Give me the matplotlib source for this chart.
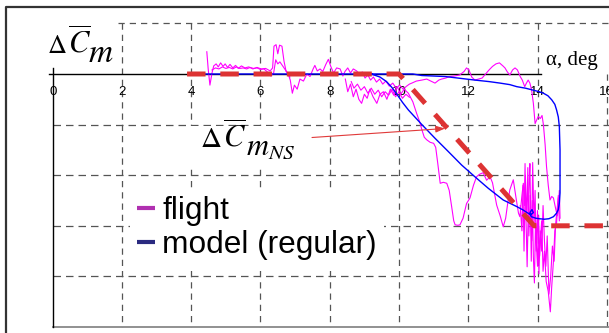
import matplotlib
matplotlib.use('Agg')
import matplotlib.pyplot as plt
from matplotlib.lines import Line2D
from matplotlib.patches import Rectangle

plt.rcParams['mathtext.fontset'] = 'stix'

# ---------------- data ----------------
x_ticks = [0, 2, 4, 6, 8, 10, 12, 14, 16]
x_tick_labels = ['0', '2', '4', '6', '8', '10', '12', '14', '16']
grid_levels = [-1, -2, -3, -4]

ns_alpha = [3.88, 10.0, 13.9, 16.2]
ns_dcm = [0.0, 0.0, -3.0, -3.0]

model_alpha = [4.0, 9.2, 10.4, 10.66, 11.0, 11.33, 11.7, 12.19, 12.6, 12.92, 13.2, 13.4,
               13.65, 13.88, 14.05, 14.17, 14.3, 14.41, 14.5, 14.55, 14.6, 14.63, 14.65,
               14.65, 14.65, 14.63, 14.6, 14.55, 14.46, 14.33, 14.2, 14.05, 13.95, 13.82,
               13.78, 13.84, 13.88, 13.80, 13.70, 13.59, 13.4, 13.01, 12.58, 12.19, 11.81,
               11.42, 11.04, 10.66, 10.27, 10.1, 9.95, 9.8, 9.64, 9.45, 9.2]
model_dcm = [0.0, 0.0, 0.0, -0.03, -0.04, -0.05, -0.08, -0.12, -0.15, -0.18, -0.21, -0.25,
             -0.28, -0.32, -0.35, -0.38, -0.43, -0.51, -0.6, -0.71, -0.85, -1.04, -1.5,
             -2.03, -2.35, -2.55, -2.68, -2.75, -2.82, -2.86, -2.87, -2.86, -2.85, -2.82,
             -2.74, -2.68, -2.74, -2.78, -2.74, -2.69, -2.62, -2.49, -2.26, -2.03, -1.8,
             -1.53, -1.27, -1.0, -0.71, -0.56, -0.41, -0.27, -0.15, -0.06, 0.0]

flight_a_alpha = [4.45, 4.49, 4.54, 4.60, 4.65, 4.72, 4.78, 4.85, 4.92, 4.98,
                  5.05, 5.12, 5.20, 5.28, 5.36, 5.45, 5.55, 5.66, 5.78, 5.90,
                  6.02, 6.15, 6.28, 6.35, 6.39, 6.45, 6.50, 6.55, 6.62, 6.68,
                  6.74, 6.80, 6.86, 6.92, 6.98, 7.06, 7.14, 7.24, 7.34, 7.43,
                  7.52, 7.57, 7.64, 7.72, 7.80, 7.88, 7.96, 8.03, 8.11, 8.20,
                  8.30, 8.38, 8.44, 8.52, 8.60, 8.68, 8.78, 8.86, 8.94, 9.02,
                  9.10, 9.18, 9.26, 9.35, 9.44, 9.53, 9.62, 9.72, 9.82, 9.92,
                  10.02, 10.12, 10.22, 10.30, 10.37, 10.50, 10.66, 10.80, 10.92, 11.04,
                  11.15, 11.23, 11.35, 11.45, 11.60, 11.75, 11.88, 11.95, 12.02, 12.10,
                  12.19, 12.30, 12.40, 12.50, 12.60, 12.70, 12.80, 12.90, 13.00, 13.06,
                  13.13, 13.20, 13.28, 13.35, 13.42, 13.50, 13.56, 13.63, 13.68, 13.73,
                  13.78, 13.83, 13.88, 13.93, 13.98, 14.02, 14.08, 14.13, 14.17, 14.22,
                  14.26, 14.31, 14.36, 14.41, 14.46, 14.52, 14.57, 14.60, 14.63, 14.65]
flight_a_dcm = [0.44, 0.10, -0.22, 0.02, 0.16, 0.20, 0.14, 0.22, 0.15, 0.20,
                0.13, 0.19, 0.12, 0.17, 0.11, 0.16, 0.12, 0.14, 0.10, 0.13,
                0.10, 0.11, 0.06, 0.12, 0.55, 0.58, 0.40, 0.57, 0.55, 0.25,
                0.05, 0.00, -0.12, -0.38, -0.22, -0.30, -0.10, -0.14, 0.00, -0.05,
                0.10, 0.17, 0.06, 0.10, 0.05, 0.18, 0.29, 0.15, 0.02, 0.12,
                0.10, -0.04, 0.05, 0.12, 0.02, 0.10, 0.06, -0.02, 0.04, -0.08,
                -0.02, -0.12, -0.06, -0.16, -0.10, -0.20, -0.14, -0.24, -0.18, -0.28,
                -0.22, -0.30, -0.24, -0.20, -0.18, -0.14, -0.12, -0.10, -0.14, -0.18,
                -0.12, -0.10, -0.08, -0.05, -0.04, -0.02, 0.05, 0.12, 0.08, -0.06,
                -0.12, -0.10, -0.08, 0.00, 0.08, 0.15, 0.20, 0.22, 0.16, 0.12,
                0.04, -0.02, 0.08, 0.12, 0.08, -0.05, -0.12, -0.25, -0.18, -0.12,
                -0.18, -0.32, -0.58, -0.98, -0.90, -0.84, -0.88, -0.82, -1.00, -1.40,
                -1.83, -2.20, -2.49, -2.42, -2.45, -2.65, -2.80, -2.70, -2.30, -2.85]

flight_b_alpha = [4.60, 4.70, 4.80, 4.90, 5.00, 5.10, 5.20, 5.30, 5.40, 5.50, 5.60, 5.70, 5.80,
                  5.90, 6.00, 6.10, 6.20, 6.30, 6.38, 6.44, 6.50, 6.56, 6.62, 6.70, 6.78, 6.85]
flight_b_dcm = [0.08, 0.12, 0.10, 0.14, 0.11, 0.13, 0.10, 0.14, 0.11, 0.12, 0.10, 0.13, 0.11,
                0.12, 0.09, 0.10, 0.04, -0.04, 0.02, 0.28, 0.20, 0.24, 0.18, 0.10, 0.02, -0.06]

flight_c_alpha = [8.45, 8.52, 8.60, 8.68, 8.76, 8.84, 8.92, 9.00, 9.08, 9.16,
                  9.25, 9.36, 9.45, 9.55, 9.65, 9.75, 9.85, 9.95, 10.05, 10.15,
                  10.27, 10.40, 10.51, 10.60, 10.66, 10.73, 10.80, 10.90, 11.00, 11.06,
                  11.12, 11.19, 11.28, 11.38, 11.45, 11.52, 11.58, 11.62, 11.70, 11.76,
                  11.85, 11.95, 12.05, 12.15, 12.24, 12.33, 12.43, 12.53, 12.63, 12.70,
                  12.82, 12.92, 13.01, 13.08, 13.14, 13.20, 13.30, 13.38, 13.45, 13.49,
                  13.55, 13.59, 13.62, 13.64, 13.66, 13.68, 13.70, 13.73, 13.76, 13.78,
                  13.80, 13.83, 13.85, 13.88, 13.91, 13.94, 13.97, 14.00, 14.03, 14.06,
                  14.09, 14.12, 14.16, 14.20, 14.25, 14.31, 14.37, 14.41, 14.46, 14.50,
                  14.55, 14.60, 14.63]
flight_c_dcm = [-0.10, -0.35, -0.20, -0.45, -0.30, -0.50, -0.58, -0.40, -0.48, -0.30,
                -0.45, -0.58, -0.40, -0.35, -0.50, -0.30, -0.42, -0.25, -0.40, -0.30,
                -0.38, -0.55, -0.78, -0.95, -1.10, -1.25, -1.30, -1.35, -1.37, -1.45,
                -1.77, -2.16, -2.14, -2.16, -2.30, -2.62, -2.90, -2.98, -2.99, -2.98,
                -2.85, -2.56, -2.45, -2.20, -2.03, -1.98, -1.95, -2.10, -2.03, -2.15,
                -2.59, -2.80, -3.02, -2.85, -2.55, -2.29, -2.09, -2.45, -2.75, -2.82,
                -2.40, -2.16, -2.60, -1.77, -2.70, -3.21, -3.81, -2.80, -2.10, -1.77,
                -2.70, -3.30, -2.50, -3.61, -4.13, -3.00, -3.40, -3.80, -2.80, -3.60,
                -3.20, -2.90, -3.90, -3.50, -4.10, -4.30, -4.70, -4.20, -3.70, -3.10,
                -2.95, -2.40, -2.90]

flight_d_alpha = [8.62, 8.70, 8.80, 8.90, 9.00, 9.10, 9.20, 9.30, 9.40, 9.50, 9.60, 9.70,
                  9.80, 9.90, 10.00, 10.10, 10.20, 10.30]
flight_d_dcm = [-0.15, -0.28, -0.20, -0.32, -0.25, -0.38, -0.28, -0.40, -0.32, -0.45, -0.35,
                -0.42, -0.30, -0.45, -0.35, -0.48, -0.40, -0.46]

flight_e_alpha = [13.50, 13.55, 13.58, 13.61, 13.65, 13.69, 13.72, 13.75, 13.79, 13.82,
                  13.86, 13.90, 13.93, 13.96, 14.00, 14.04, 14.08, 14.12, 14.16, 14.20,
                  14.24, 14.28, 14.33, 14.38, 14.43, 14.48, 14.52, 14.56, 14.60]
flight_e_dcm = [-2.60, -3.10, -2.20, -3.50, -2.00, -2.90, -1.85, -3.20, -2.40, -3.70,
                -1.75, -3.00, -2.30, -3.50, -2.70, -3.95, -3.10, -3.50, -2.60, -3.30,
                -3.80, -3.20, -4.35, -4.00, -3.40, -3.70, -3.00, -2.70, -2.45]

legend_labels = ['flight', 'model (regular)']

# ---------------- layout helpers (pixel -> data) ----------------
W, H = 609, 333
PX0, PXD = 52.7, 34.63
PY0, PYD = 74.0, 50.6


def X(px):
    return (px - PX0) / PXD


def Y(py):
    return (PY0 - py) / PYD


fig = plt.figure(figsize=(W / 100, H / 100), dpi=100)
ax = fig.add_axes([0, 0, 1, 1])
ax.set_xlim(X(0), X(W))
ax.set_ylim(Y(H), Y(0))
ax.axis('off')

grid_kw = dict(color='#555555', lw=0.9, ls=(0, (5, 4)), zorder=1)
XR = X(W + 5)

# outer frame
ax.plot([X(6), X(6), XR], [Y(H + 5), Y(7), Y(7)], color='#333333', lw=1.6,
        solid_capstyle='butt', zorder=1)
# dashed top border
ax.plot([X(118), XR], [1, 1], **grid_kw)
# vertical grid
for xv in x_ticks[1:]:
    top = 1 if xv < 16 else 0
    ax.plot([xv, xv], [top, -5], **grid_kw)
# horizontal grid
for yv in grid_levels:
    ax.plot([0, XR], [yv, yv], color='#555555', lw=0.9, ls=(0, (6, 4)), zorder=1)
# bottom line
ax.plot([0, XR], [-5, -5], color='#888888', lw=1.3, zorder=1)
# axes lines
ax.plot([X(49), 14.1], [0, 0], color='black', lw=1.0, zorder=2)
ax.plot([0, 0], [Y(68), -5], color='black', lw=1.0, zorder=2)

# tick labels
for xv, lab in zip(x_ticks, x_tick_labels):
    ax.text(xv, Y(92), lab, ha='center', va='center', fontsize=9.5,
            family='Liberation Sans', color='black', zorder=2)

# white box behind annotation text
ax.add_patch(Rectangle((X(188), Y(166)), X(292) - X(188), Y(126) - Y(166),
                       facecolor='white', edgecolor='none', zorder=1.5))

# data lines
for xs, ys in [(flight_a_alpha, flight_a_dcm), (flight_b_alpha, flight_b_dcm),
               (flight_c_alpha, flight_c_dcm), (flight_d_alpha, flight_d_dcm),
               (flight_e_alpha, flight_e_dcm)]:
    ax.plot(xs, ys, color='#ff00ff', lw=0.8, zorder=3)
ax.plot(model_alpha, model_dcm, color='#0000ff', lw=1.0, zorder=4)
ax.plot(ns_alpha, ns_dcm, color='#dd3333', lw=3.6, ls=(0, (3.7, 2.95)),
        dash_capstyle='butt', zorder=5)

# labels
serif = 'Liberation Serif'
ax.text(X(47), Y(53), r'$\Delta$', fontsize=19, va='baseline', ha='left')
ax.text(X(68), Y(53), r'$\overline{C}$', fontsize=22, va='baseline', ha='left')
ax.text(X(88), Y(62), r'$m$', fontsize=24, va='baseline', ha='left')

ax.text(X(546), Y(65), 'α, deg', fontsize=15, family=serif, va='baseline', ha='left')

ax.text(X(200), Y(147), r'$\Delta$', fontsize=21, va='baseline', ha='left', zorder=6)
ax.text(X(223), Y(147), r'$\overline{C}$', fontsize=22, va='baseline', ha='left', zorder=6)
ax.text(X(246), Y(155), r'$m_{NS}$', fontsize=22, va='baseline', ha='left', zorder=6)
ax.annotate('', xy=(X(445), Y(128.5)), xytext=(X(312), Y(137.5)),
            arrowprops=dict(arrowstyle='-|>,head_length=0.55,head_width=0.2',
                            color='#e03a3a', lw=0.8, shrinkA=0, shrinkB=0),
            zorder=6)

# legend
handles = [Line2D([], [], color='#b030b0', lw=3, solid_capstyle='butt'),
           Line2D([], [], color='#2a2a80', lw=3, solid_capstyle='butt')]
leg = ax.legend(handles, legend_labels, loc='upper left',
                bbox_to_anchor=(130 / W, 1 - 189 / H), bbox_transform=fig.transFigure,
                prop={'family': 'Liberation Sans', 'size': 22.8},
                handlelength=0.58, handletextpad=0.22, labelspacing=0.12,
                borderpad=0.22, borderaxespad=0, frameon=True, fancybox=False,
                edgecolor='none', facecolor='white', framealpha=1)

fig.savefig('out.png', dpi=100)
